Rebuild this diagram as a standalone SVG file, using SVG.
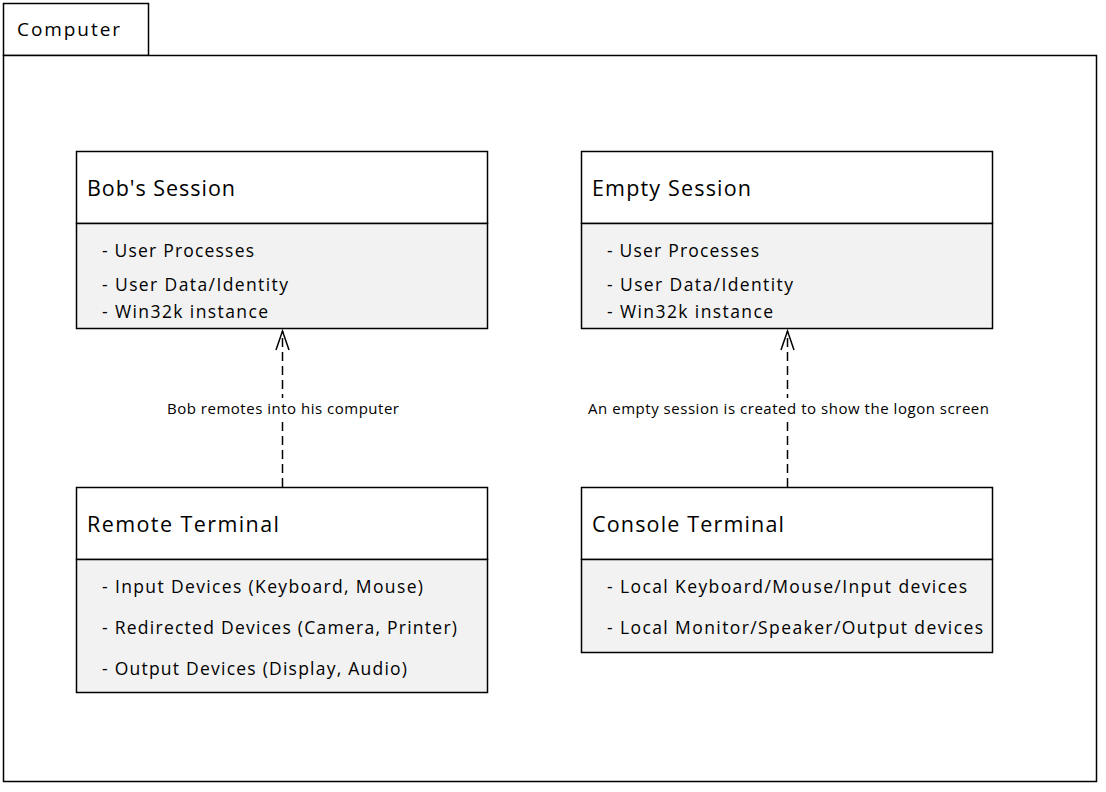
<svg xmlns="http://www.w3.org/2000/svg" width="1106" height="792" viewBox="0 0 1106 792">
<style>
.frame{fill:#fff;stroke:#000;stroke-width:1.5}
.head{fill:#fff;stroke:#000;stroke-width:1.5}
.body{fill:#f2f2f2;stroke:#000;stroke-width:1.5}
.t{font-family:"Open Sans","Noto Sans",sans-serif;fill:#000}
.title{font-size:21.5px}
.item{font-size:17.5px}
.lbl{font-size:15px;text-anchor:middle}
.conn{stroke:#000;stroke-width:1.5;stroke-dasharray:9,5;fill:none}
.ah{stroke:#000;stroke-width:1.5;fill:none}
</style>
<rect width="1106" height="792" fill="#fff"/>
<g id="computer">
<rect class="frame" x="3.5" y="3.5" width="145" height="52"/>
<rect class="frame" x="3.5" y="55.5" width="1093" height="726"/>
<text class="t" x="17" y="36" font-size="19" textLength="103">Computer</text>
</g>
<g id="bobs-session">
<rect class="head" x="76.5" y="151.5" width="411" height="72"/>
<rect class="body" x="76.5" y="223.5" width="411" height="105"/>
<text class="t title" x="87" y="196" textLength="148">Bob's Session</text>
<text class="t item" x="102" y="257" textLength="152">- User Processes</text>
<text class="t item" x="102" y="291" textLength="186">- User Data/Identity</text>
<text class="t item" x="102" y="318" textLength="166">- Win32k instance</text>
</g>
<g id="empty-session">
<rect class="head" x="581.5" y="151.5" width="411" height="72"/>
<rect class="body" x="581.5" y="223.5" width="411" height="105"/>
<text class="t title" x="592" y="196" textLength="159">Empty Session</text>
<text class="t item" x="607" y="257" textLength="152">- User Processes</text>
<text class="t item" x="607" y="291" textLength="186">- User Data/Identity</text>
<text class="t item" x="607" y="318" textLength="166">- Win32k instance</text>
</g>
<g id="remote-terminal">
<rect class="head" x="76.5" y="487.5" width="411" height="72"/>
<rect class="body" x="76.5" y="559.5" width="411" height="133"/>
<text class="t title" x="87" y="532" textLength="192">Remote Terminal</text>
<text class="t item" x="102" y="593" textLength="321">- Input Devices (Keyboard, Mouse)</text>
<text class="t item" x="102" y="634" textLength="355">- Redirected Devices (Camera, Printer)</text>
<text class="t item" x="102" y="675" textLength="305">- Output Devices (Display, Audio)</text>
</g>
<g id="console-terminal">
<rect class="head" x="581.5" y="487.5" width="411" height="72"/>
<rect class="body" x="581.5" y="559.5" width="411" height="93"/>
<text class="t title" x="592" y="532" textLength="192">Console Terminal</text>
<text class="t item" x="607" y="593" textLength="360">- Local Keyboard/Mouse/Input devices</text>
<text class="t item" x="607" y="634" textLength="376">- Local Monitor/Speaker/Output devices</text>
</g>
<g id="connectors">
<line class="conn" x1="282.5" y1="487" x2="282.5" y2="331"/>
<polyline class="ah" points="276,350 282.5,331 289,350"/>
<line class="conn" x1="787.5" y1="487" x2="787.5" y2="331"/>
<polyline class="ah" points="781,350 787.5,331 794,350"/>
<rect x="165" y="398" width="236" height="22" fill="#fff"/>
<text class="t lbl" x="283" y="414" textLength="232">Bob remotes into his computer</text>
<rect x="586" y="398" width="405" height="22" fill="#fff"/>
<text class="t lbl" x="788.5" y="414" textLength="401">An empty session is created to show the logon screen</text>
</g>
</svg>
